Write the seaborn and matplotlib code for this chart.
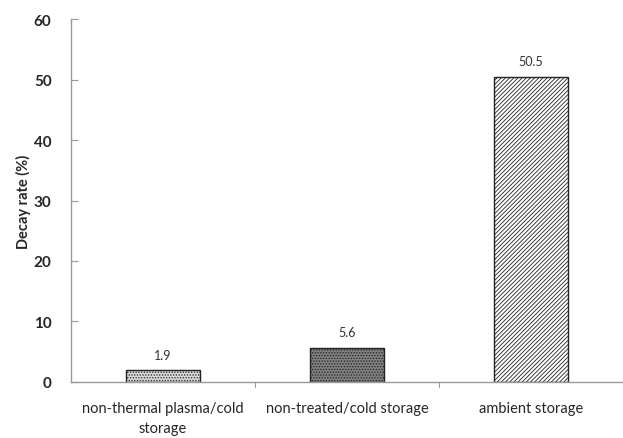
import matplotlib
matplotlib.use("Agg")
import matplotlib.pyplot as plt
import seaborn as sns
import pandas as pd

categories = ["non-thermal plasma/cold\nstorage", "non-treated/cold storage", "ambient storage"]
decay_rate = [1.9, 5.6, 50.5]
value_labels = ["1.9", "5.6", "50.5"]
y_ticks = [0, 10, 20, 30, 40, 50, 60]

sns.set_style("white")
plt.rcParams["font.family"] = ["Lato", "DejaVu Sans"]
plt.rcParams["hatch.color"] = "#444444"
plt.rcParams["hatch.linewidth"] = 0.6

df = pd.DataFrame({"category": categories, "decay": decay_rate})

fig = plt.figure(figsize=(6.23, 4.39), dpi=100)
ax = fig.add_axes([0.114, 0.128, 0.886, 0.826])

sns.barplot(data=df, x="category", y="decay", ax=ax, width=0.4,
            color="white", edgecolor="#222222", linewidth=1.0)

fills = ["#d8d8d8", "#808080", "white"]
hatches = ["......", "......", "////////"]
for bar, fc, h in zip(ax.patches, fills, hatches):
    bar.set_facecolor(fc)
    bar.set_hatch(h)

for bar, lab in zip(ax.patches, value_labels):
    ax.text(bar.get_x() + bar.get_width() / 2, bar.get_height() + 1.6, lab,
            ha="center", va="bottom", fontsize=9, color="#333333")

ax.set_xlim(-0.5, 2.5)
ax.set_ylim(0, 60)
ax.set_yticks(y_ticks)
ax.set_yticklabels([str(t) for t in y_ticks], fontsize=11, fontweight="bold")
ax.set_xlabel("")
ax.set_ylabel("Decay rate (%)", fontsize=10.5, fontweight="bold", labelpad=2)
ax.tick_params(axis="x", length=0, pad=14)
ax.tick_params(axis="y", direction="in", length=5, color="#999999", pad=14, left=True)
ax.set_xticks([0, 1, 2])
ax.set_xticklabels(categories, fontsize=10.5, linespacing=1.55)
for x in [0.5, 1.5]:
    ax.plot([x, x], [0, -0.9], color="#999999", lw=0.8, clip_on=False)

for side in ["top", "right"]:
    ax.spines[side].set_visible(False)
for side in ["left", "bottom"]:
    ax.spines[side].set_color("#999999")
    ax.spines[side].set_linewidth(1.0)

fig.savefig("out.png", dpi=100)
